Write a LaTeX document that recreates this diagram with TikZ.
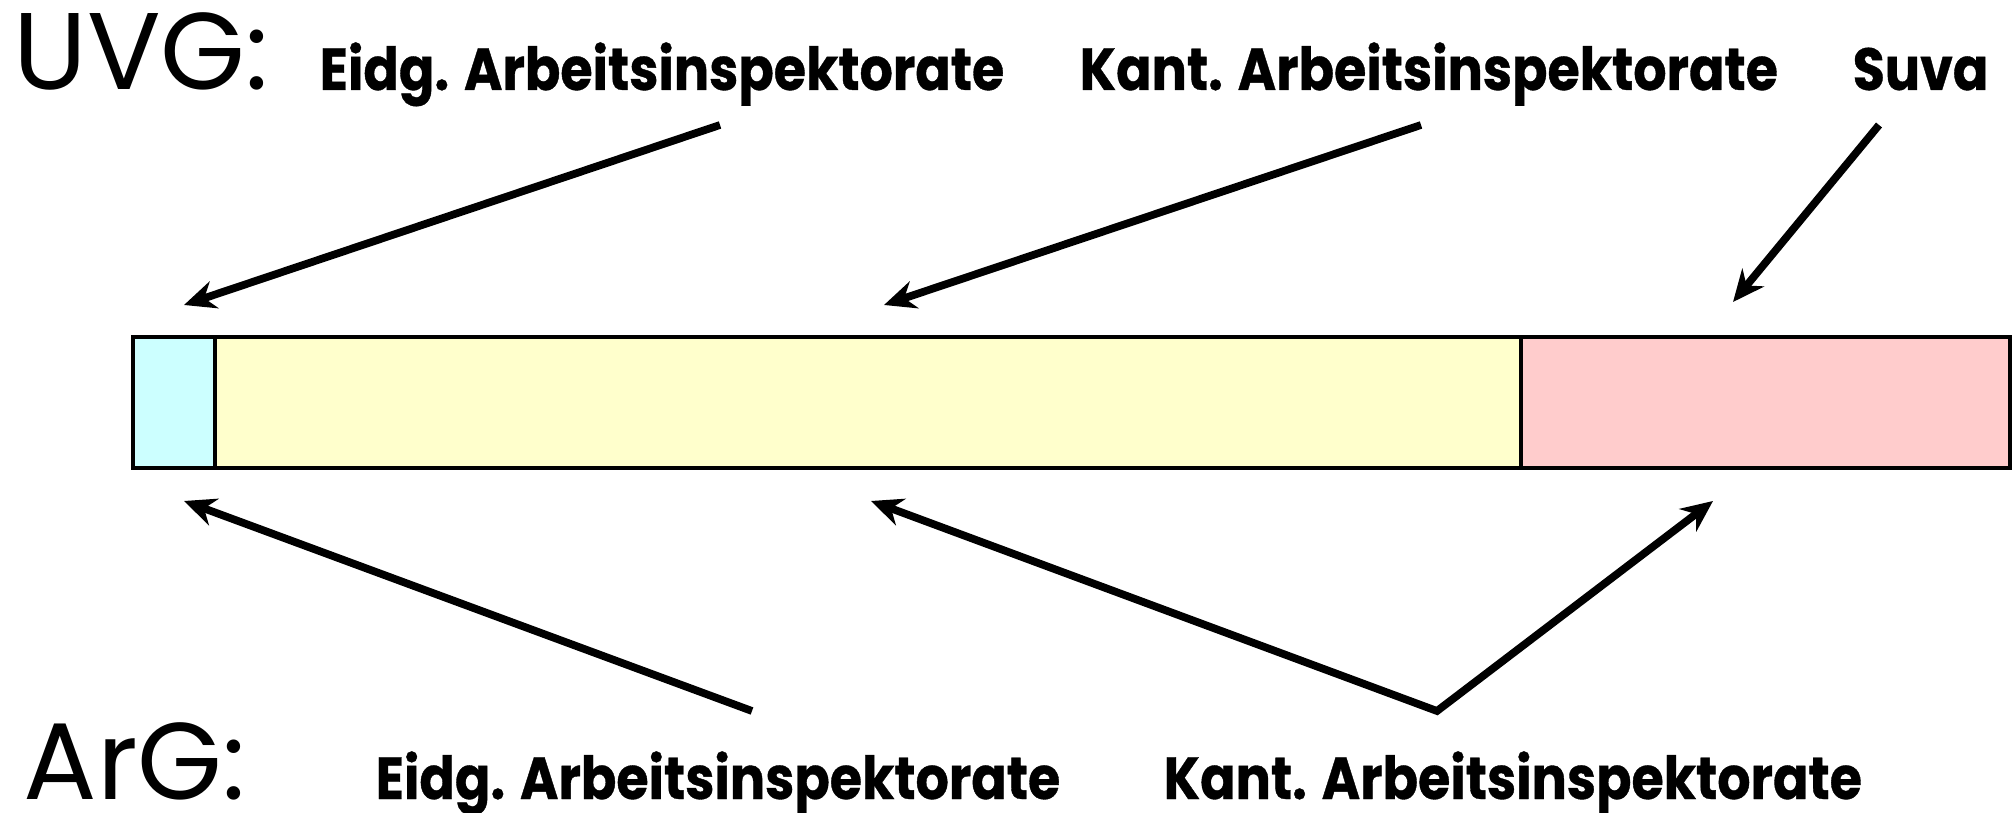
\documentclass[tikz,border=0pt]{standalone}
\usepackage{fontspec}
\setmainfont{Poppins}
\newfontfamily\inspectfont[FakeStretch=0.88, FakeBold=0.6]{Poppins}
\usetikzlibrary{arrows.meta,positioning}

\definecolor{eidgcol}{RGB}{204,255,255}
\definecolor{kantcol}{RGB}{255,255,204}
\definecolor{suvacol}{RGB}{255,204,204}

\tikzset{
  law/.style={anchor=base west, inner sep=0pt, font=\fontsize{31}{31}\selectfont},
  inspect/.style={anchor=base west, inner sep=0pt, font=\inspectfont\bfseries\fontsize{16.9}{20}\selectfont},
  seg/.style={draw, line width=1.3pt, minimum height=1.31cm, inner sep=0pt, outer sep=0pt},
  pointer/.style={line width=2.2pt, -{Stealth[length=9pt, width=8pt]}},
}

\begin{document}
\begin{tikzpicture}[x=0.01cm, y=-0.01cm]
            \useasboundingbox (0,0) rectangle (2015,813);

            % the bar
            \node[seg, fill=eidgcol, minimum width=0.82cm, anchor=north west] (eidg) at (133,337) {};
            \node[seg, fill=kantcol, minimum width=13.05cm, right=0pt of eidg] (kant) {};
            \node[seg, fill=suvacol, minimum width=4.89cm, right=0pt of kant] (suva) {};

            % UVG
            \node[law] (uvg) at (13,90) {UVG:};
            \node[inspect] (eidgTop) at (319,90) {Eidg. Arbeitsinspektorate};
            \node[inspect] (kantTop) at (1079,90) {Kant. Arbeitsinspektorate};
            \node[inspect] (suvaTop) at (1852,90) {Suva};

            % ArG
            \node[law] (arg) at (23,799) {ArG:};
            \node[inspect] (eidgBot) at (375,799) {Eidg. Arbeitsinspektorate};
            \node[inspect] (kantBot) at (1163,799) {Kant. Arbeitsinspektorate};

            \coordinate (eidgTopStart) at (720,125);
            \coordinate (eidgTopEnd) at (184,305);
            \coordinate (kantTopStart) at (1421,125);
            \coordinate (kantTopEnd) at (884,305);
            \coordinate (suvaTopStart) at (1879,125);
            \coordinate (suvaTopEnd) at (1733,302);
            \coordinate (eidgBotStart) at (752,711);
            \coordinate (eidgBotEnd) at (184,501);
            \coordinate (kantFork) at (1437,711);
            \coordinate (kantBotEnd) at (871,501);
            \coordinate (suvaBotEnd) at (1713,501);

            \draw[pointer] (eidgTopStart) -- (eidgTopEnd);
            \draw[pointer] (kantTopStart) -- (kantTopEnd);
            \draw[pointer] (suvaTopStart) -- (suvaTopEnd);
            \draw[pointer] (eidgBotStart) -- (eidgBotEnd);
            \draw[pointer, {Stealth[length=9pt, width=8pt]}-{Stealth[length=9pt, width=8pt]}] (kantBotEnd) -- (kantFork) -- (suvaBotEnd);
\end{tikzpicture}
\end{document}
